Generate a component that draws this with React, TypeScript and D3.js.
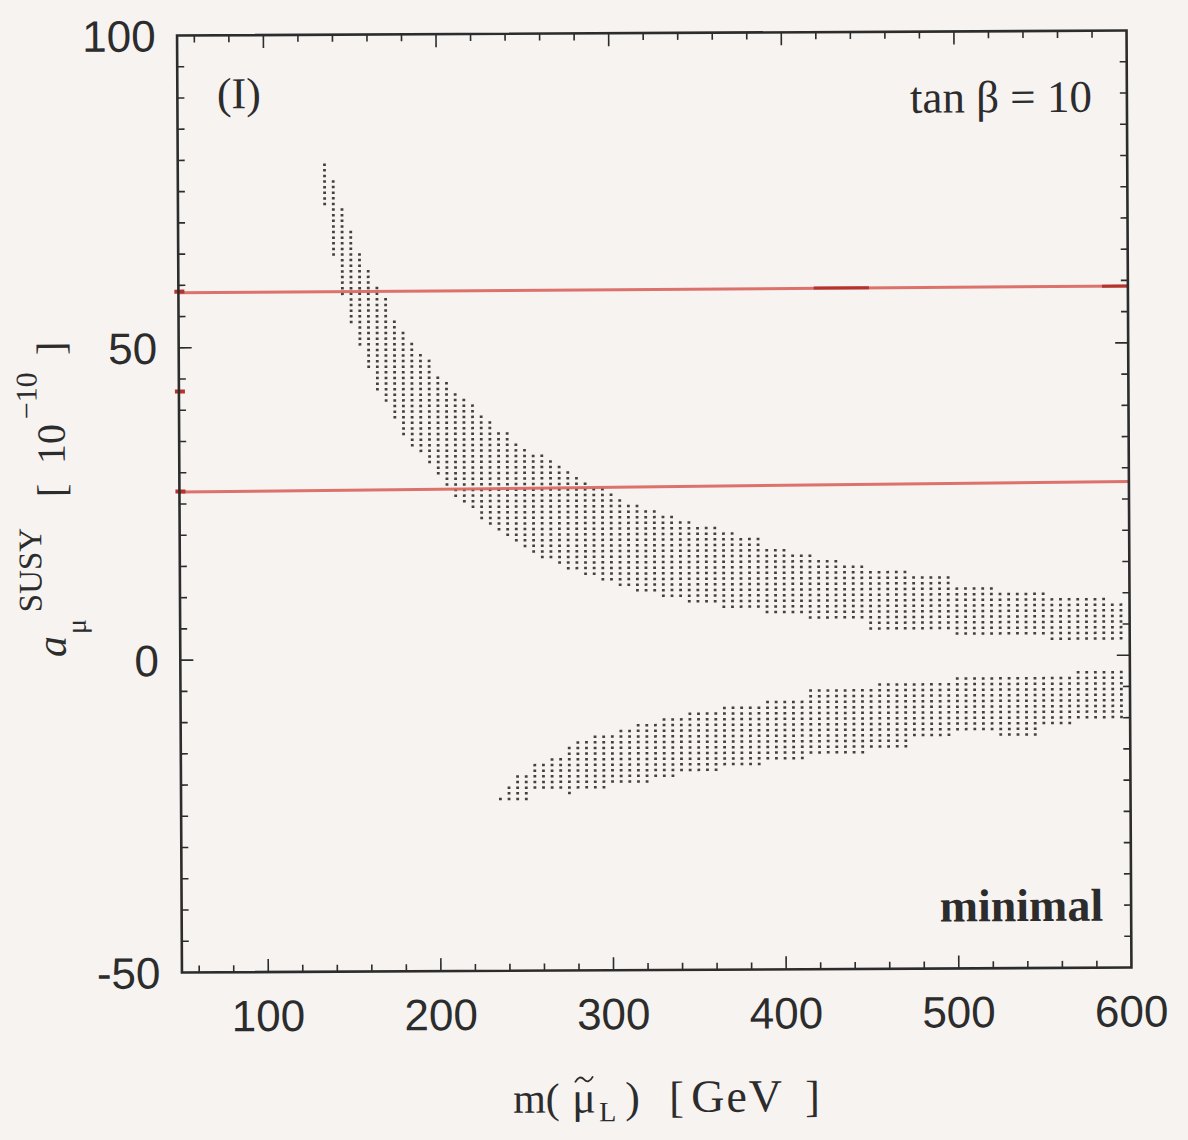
import React, { useEffect } from "react";
import * as d3 from "d3";

// ---------- data ----------
// upper (positive) band: slepton mass columns with band top / bottom in 10^-10
const upperMass = [135,140,145,150,155,160,165,170,175,180,185,190,195,200,205,210,215,220,225,230,235,240,245,250,255,260,265,270,275,280,285,290,295,300,305,310,315,320,325,330,335,340,345,350,355,360,365,370,375,380,385,390,395,400,405,410,415,420,425,430,435,440,445,450,455,460,465,470,475,480,485,490,495,500,505,510,515,520,525,530,535,540,545,550,555,560,565,570,575,580,585,590,595];
const upperTop = [79.2,76.3,72.3,68.3,65.2,62.4,59.1,57.5,54.3,52.4,50.6,48.2,47.4,45.2,44.2,42.3,41.2,40.4,38.6,37.5,36.4,35.6,34.6,33.5,32.7,32.2,31.4,30.3,29.5,28.4,28.2,27.4,26.8,26.0,25.5,24.4,24.2,23.4,23.4,22.6,22.3,21.5,21.5,20.3,20.3,20.3,19.5,19.5,18.5,18.5,18.5,17.4,17.4,17.4,16.4,16.4,16.4,15.2,15.2,15.2,14.2,14.2,14.2,13.4,13.4,13.4,13.4,13.4,12.3,12.3,12.3,12.3,12.3,11.1,11.1,11.1,11.1,11.1,10.2,10.2,10.2,10.2,10.2,10.2,9.3,9.3,9.3,9.3,9.3,9.3,9.3,8.3,8.3];
const upperBottom = [72.8,64.8,58.8,53.9,50.0,46.8,43.5,41.0,38.8,36.0,34.4,33.0,31.6,29.9,27.9,26.0,25.0,23.9,22.3,21.5,21.0,20.2,18.8,17.8,17.0,16.4,15.9,15.4,14.8,14.3,13.5,13.1,12.4,12.3,11.6,11.6,11.1,11.1,11.1,10.3,10.0,10.0,9.2,9.2,9.1,9.1,8.2,8.2,8.1,8.1,8.1,7.0,7.0,7.0,6.9,6.9,6.1,6.1,6.1,6.1,6.0,6.0,6.0,4.8,4.8,4.8,4.8,4.8,4.9,4.9,4.9,4.9,4.9,3.9,3.9,3.9,3.9,3.9,3.8,3.8,3.8,3.8,3.8,3.8,3.0,3.0,3.0,3.0,3.0,3.0,3.0,3.0,3.0];

// lower (negative) band
const lowerMass = [235,240,245,250,255,260,265,270,275,280,285,290,295,300,305,310,315,320,325,330,335,340,345,350,355,360,365,370,375,380,385,390,395,400,405,410,415,420,425,430,435,440,445,450,455,460,465,470,475,480,485,490,495,500,505,510,515,520,525,530,535,540,545,550,555,560,565,570,575,580,585,590,595];
const lowerTop = [-22.1,-21.0,-19.0,-19.0,-16.7,-16.7,-15.8,-15.8,-14.6,-13.8,-13.8,-12.7,-12.7,-12.7,-11.7,-11.7,-10.7,-10.7,-10.7,-9.6,-9.6,-9.6,-8.7,-8.7,-8.7,-8.7,-7.9,-7.9,-7.9,-7.9,-7.9,-6.8,-6.8,-6.8,-6.8,-6.8,-5.7,-5.7,-5.7,-5.7,-5.7,-5.7,-5.7,-5.8,-4.8,-4.8,-4.8,-4.8,-4.7,-4.7,-4.7,-4.7,-4.7,-3.6,-3.6,-3.6,-3.6,-3.6,-3.7,-3.7,-3.7,-3.7,-3.7,-3.7,-3.7,-3.7,-3.7,-2.8,-2.8,-2.8,-2.8,-2.8,-2.8];
const lowerBottom = [-22.1,-22.1,-22.1,-22.1,-21.0,-21.0,-21.0,-21.0,-22.0,-21.1,-21.1,-21.1,-21.1,-20.0,-20.0,-20.0,-20.0,-20.0,-19.0,-19.1,-19.1,-17.9,-17.9,-17.9,-17.9,-17.9,-16.9,-16.9,-16.9,-16.9,-16.9,-16.1,-16.1,-16.1,-16.1,-16.1,-15.2,-15.2,-15.2,-15.2,-15.2,-15.2,-15.2,-14.1,-14.1,-14.1,-14.1,-14.1,-13.0,-13.0,-13.0,-13.0,-13.0,-12.1,-12.1,-12.1,-12.1,-12.1,-12.2,-12.2,-12.2,-12.2,-12.2,-11.1,-11.1,-11.1,-11.1,-10.0,-10.0,-10.0,-10.0,-10.0,-10.0];

// experimental band (red lines) and central mark
const redLineMass = [50, 600];
const redUpper = [58.8, 59.1];
const redLower = [26.9, 27.8];
const axisMarks = [59, 43, 27];

// axes
const xDomain = [50, 600];
const yDomain = [-50, 100];
const xTickLabels = [100, 200, 300, 400, 500, 600];
const yTickLabels = [100, 50, 0, -50];
const xMinorTicks = [60,80,120,140,160,180,220,240,260,280,320,340,360,380,420,440,460,480,520,540,560,580];
const xMajorTicks = [100, 200, 300, 400, 500];
const yMinorTicks = [-45,-40,-35,-30,-25,-20,-15,-10,-5,5,10,15,20,25,30,35,40,45,55,60,65,70,75,80,85,90,95];
const yMajorTicks = [0, 50];

const BG = "#f6f3f1";
const INK = "#2c2c2c";
const SANS = "'Liberation Sans', Arial, Helvetica, sans-serif";
const SERIF = "'Liberation Serif', 'Times New Roman', Times, serif";

export default function App() {
  useEffect(() => {
    document.body.style.margin = "0";
    document.body.style.background = BG;
  }, []);

  const x = d3.scaleLinear().domain(xDomain).range([179.5, 1129]);
  const y = d3.scaleLinear().domain(yDomain).range([970, 33]);
  const L = x(50), R = x(600), T = y(100), B = y(-50);

  const step = 0.9; // vertical spacing of scan points
  const dots: { cx: number; cy: number }[] = [];
  const addBand = (ms: number[], top: number[], bot: number[]) => {
    ms.forEach((m, i) => {
      const kLo = Math.round(bot[i] / step);
      const kHi = Math.round(top[i] / step);
      for (let k = kLo; k <= kHi; k++) dots.push({ cx: x(m), cy: y(k * step) });
    });
  };
  addBand(upperMass, upperTop, upperBottom);
  addBand(lowerMass, lowerTop, lowerBottom);

  const line = d3.line<number>().x((_, i) => x(redLineMass[i])).y((d) => y(d));

  const majorLen = 13, minorLen = 7;

  return (
    <svg width={1188} height={1140} style={{ display: "block", background: BG }}>
      <rect x={0} y={0} width={1188} height={1140} fill={BG} />
      <g transform="rotate(-0.3 655 502)">
        {/* scan points */}
        <g fill="#2e2e2e" opacity={0.9}>
          {dots.map((d, i) => (
            <rect key={i} x={d.cx - 1.4} y={d.cy - 1.25} width={2.8} height={2.5} />
          ))}
        </g>

        {/* red experimental lines */}
        <path d={line(redUpper) || ""} fill="none" stroke="#d9645c" strokeWidth={3} opacity={0.9} />
        <path d={line(redLower) || ""} fill="none" stroke="#d9645c" strokeWidth={3} opacity={0.9} />
        <line x1={x(418)} x2={x(450)} y1={y(59.05)} y2={y(59.05)} stroke="#b3332d" strokeWidth={3} />
        <line x1={x(585)} x2={x(600)} y1={y(59.1)} y2={y(59.1)} stroke="#b3332d" strokeWidth={3} />
        {axisMarks.map((v, i) => (
          <line key={i} x1={L - 4} x2={L + 6} y1={y(v)} y2={y(v)} stroke="#b3332d" strokeWidth={4} />
        ))}

        {/* ticks */}
        <g stroke={INK} strokeWidth={1.6}>
          {xMinorTicks.map((t) => (
            <g key={"xm" + t}>
              <line x1={x(t)} x2={x(t)} y1={B} y2={B - minorLen} />
              <line x1={x(t)} x2={x(t)} y1={T} y2={T + minorLen} />
            </g>
          ))}
          {xMajorTicks.map((t) => (
            <g key={"xM" + t}>
              <line x1={x(t)} x2={x(t)} y1={B} y2={B - majorLen} />
              <line x1={x(t)} x2={x(t)} y1={T} y2={T + majorLen} />
            </g>
          ))}
          {yMinorTicks.map((t) => (
            <g key={"ym" + t}>
              <line x1={L} x2={L + minorLen} y1={y(t)} y2={y(t)} />
              <line x1={R} x2={R - minorLen} y1={y(t)} y2={y(t)} />
            </g>
          ))}
          {yMajorTicks.map((t) => (
            <g key={"yM" + t}>
              <line x1={L} x2={L + majorLen} y1={y(t)} y2={y(t)} />
              <line x1={R} x2={R - majorLen} y1={y(t)} y2={y(t)} />
            </g>
          ))}
        </g>

        {/* frame */}
        <rect x={L} y={T} width={R - L} height={B - T} fill="none" stroke={INK} strokeWidth={2.6} />

        {/* tick labels */}
        <g fill={INK} fontFamily={SANS} fontSize={44}>
          {xTickLabels.map((t) => (
            <text key={"xl" + t} x={x(t)} y={1029} textAnchor="middle">{t}</text>
          ))}
          {yTickLabels.map((t) => (
            <text key={"yl" + t} x={158} y={y(t)} dy="0.36em" textAnchor="end">{t}</text>
          ))}
        </g>

        {/* annotations */}
        <text x={219} y={106} fontFamily={SERIF} fontSize={44} fill={INK}>(I)</text>
        <text x={1094} y={114} fontFamily={SERIF} fontSize={45} fill={INK} textAnchor="end" style={{ whiteSpace: "pre" }}>tan β = 10</text>
        <text x={1101} y={923} fontFamily={SERIF} fontSize={46} fontWeight="bold" fill={INK} textAnchor="end">minimal</text>

        {/* x axis title */}
        <g fill={INK} fontFamily={SERIF}>
          <text x={510} y={1112} fontSize={42}>m(</text>
          <text x={569} y={1112} fontSize={44}>μ</text>
          <path d="M 572 1082 Q 576.5 1074 581 1079 T 590 1076" fill="none" stroke={INK} strokeWidth={1.8} />
          <text x={596} y={1121} fontSize={28}>L</text>
          <text x={622} y={1112} fontSize={44}>)</text>
          <text x={666} y={1112} fontSize={44}>[</text>
          <text x={688} y={1112} fontSize={46} style={{ letterSpacing: "2px" }}>GeV</text>
          <text x={802} y={1112} fontSize={44}>]</text>
        </g>

        {/* y axis title */}
        <g transform="translate(65,654) rotate(-90)" fill={INK} fontFamily={SERIF}>
          <text style={{ whiteSpace: "pre" }}>
            <tspan x={0} y={0} fontSize={42} fontStyle="italic">a</tspan>
            <tspan x={23} y={20} fontSize={28}>μ</tspan>
            <tspan x={45} y={-24} fontSize={33}>SUSY</tspan>
            <tspan x={160} y={0} fontSize={40}>[</tspan>
            <tspan x={193} y={0} fontSize={40}>10</tspan>
            <tspan x={238} y={-28} fontSize={30}>−10</tspan>
            <tspan x={302} y={0} fontSize={40}>]</tspan>
          </text>
        </g>
      </g>
    </svg>
  );
}
